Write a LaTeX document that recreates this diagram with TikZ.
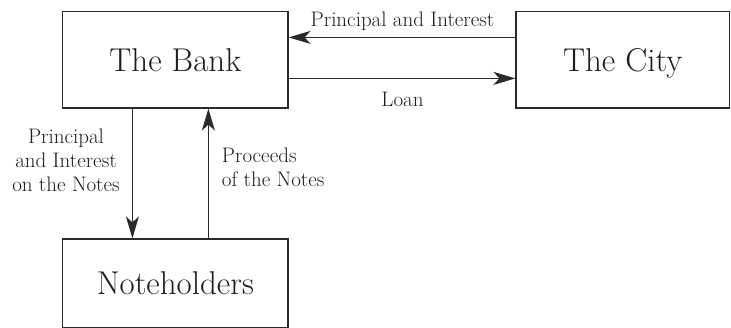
\documentclass[tikz,border=0pt]{standalone}
\usetikzlibrary{arrows.meta}
\definecolor{ink}{HTML}{1E1E1E}
\definecolor{lineink}{HTML}{2A2A2A}
\begin{document}
\begin{tikzpicture}[x=1pt,y=-1pt,
  box/.style={draw=lineink,line width=1.2pt,rectangle,inner sep=0pt,text=ink,
    font=\fontsize{33}{39}\selectfont,text height=22.5pt,text depth=0pt},
  lbl/.style={inner sep=0pt,text=ink,font=\fontsize{21}{24}\selectfont},
  arr/.style={draw=lineink,line width=1.1pt,-{Stealth[length=22pt,width=13pt,inset=6pt]}}]
\useasboundingbox (0,0) rectangle (731,328);
\node[box,minimum width=225.3pt,minimum height=96.3pt] (bank) at (175.35,59.85) {The Bank};
\node[box,minimum width=213.5pt,minimum height=96.3pt] (city) at (622.75,59.85) {The City};
\node[box,minimum width=225.3pt,minimum height=88.5pt] (notes) at (175.35,283.25) {Noteholders};
\draw[arr] ([yshift=-26.3pt]city.north west) -- ([yshift=-26.3pt]bank.north east);
\draw[arr] ([yshift=-67.3pt]bank.north east) -- ([yshift=-67.3pt]city.north west);
\draw[arr] ([xshift=70.3pt]bank.south west) -- ([xshift=70.3pt]notes.north west);
\draw[arr] ([xshift=146.3pt]notes.north west) -- ([xshift=146.3pt]bank.south west);
\node[lbl,anchor=base] (pi) at (402.5,27) {Principal and Interest};
\node[lbl,anchor=base] (loan) at (402.5,107) {Loan};
\node[lbl,anchor=base,align=center] (pin) at (66,191.7) {Principal\\and Interest\\on the Notes};
\node[lbl,anchor=base west,align=left] (proc) at (221.7,186.7) {Proceeds\\of the Notes};
\end{tikzpicture}
\end{document}
